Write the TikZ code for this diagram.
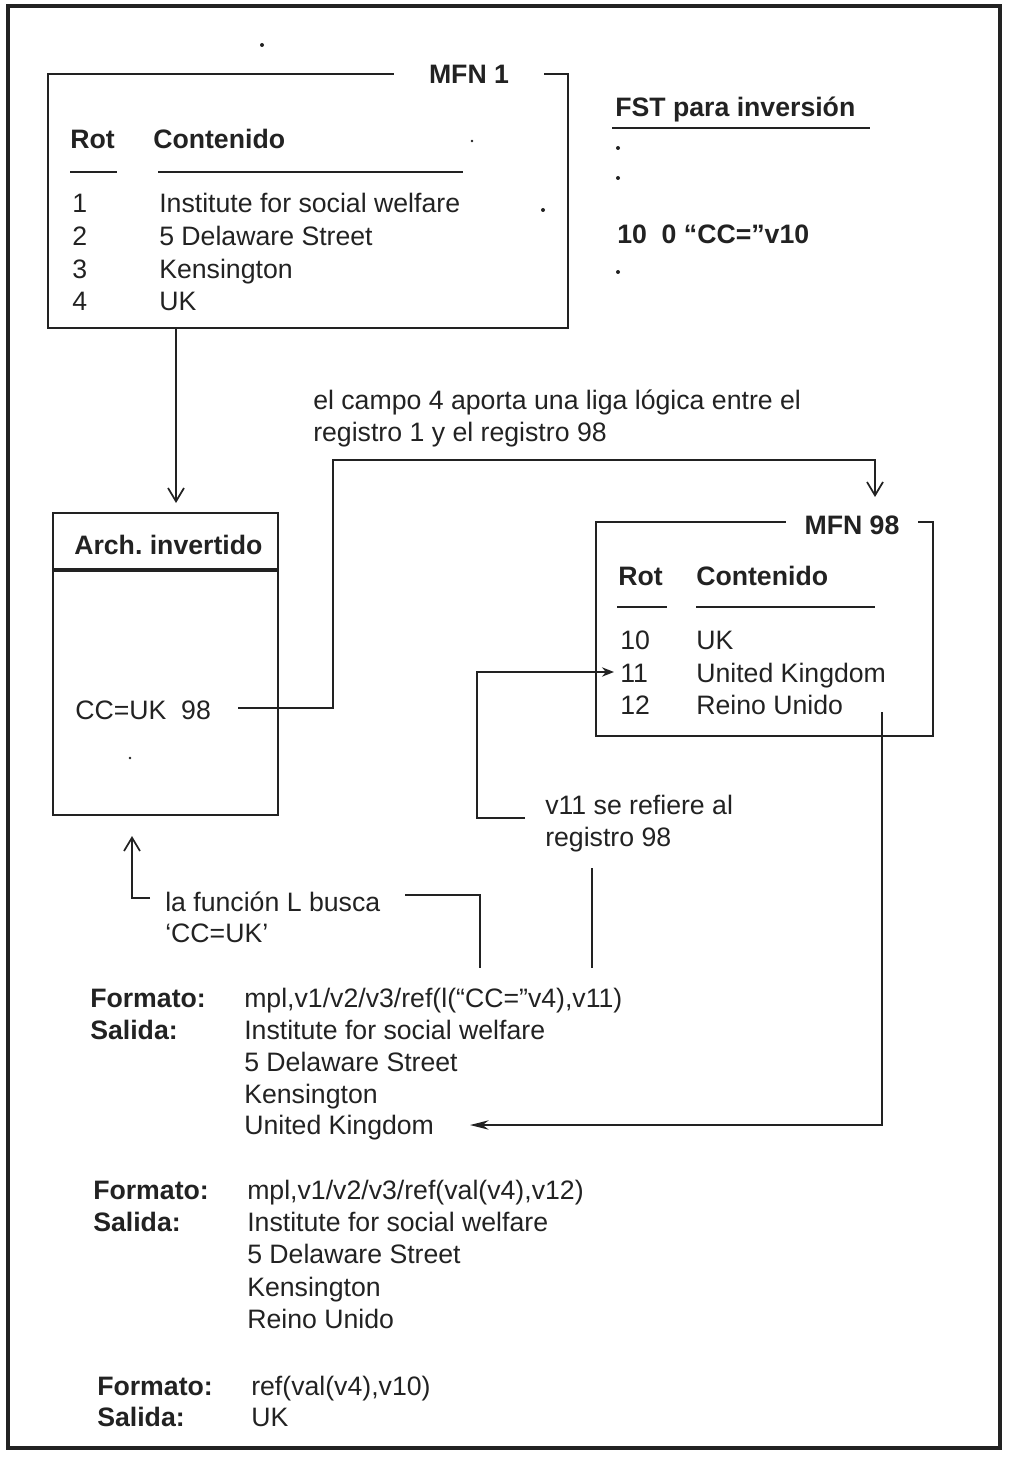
\documentclass[tikz,border=0pt]{standalone}
\usepackage{fontspec}
\setmainfont{Liberation Sans}
\usetikzlibrary{arrows.meta}
\definecolor{ink}{HTML}{222222}
\frenchspacing
\tikzset{
  txt/.style={anchor=base west, inner sep=0pt, text=ink, font=\fontsize{20}{24}\selectfont},
  btxt/.style={txt, font=\fontsize{20}{24}\selectfont\bfseries},
  boxline/.style={draw=ink, line width=2pt},
  conn/.style={draw=ink, line width=1.3pt},
  barb/.style={-{Straight Barb[length=10pt,width=12pt,line width=1.3pt]}},
  tri/.style={-{Stealth[length=9pt,width=7pt]}},
  ttl/.style={fill=white, inner xsep=20pt, inner ysep=2pt, text=ink, font=\fontsize{20}{24}\selectfont\bfseries},
  dotm/.style={circle, fill=ink, inner sep=0pt, minimum size=3pt}
}
\begin{document}
\begin{tikzpicture}[x=0.75pt,y=-0.75pt]
\useasboundingbox (0,0) rectangle (1021,1458);
% outer frame
\draw[draw=ink, line width=2.5pt] (8,6) rectangle (1000,1448);

% stray dots
\node[dotm] (d0) at (262,45) {};

% ---------- MFN 1 ----------
\draw[boxline] (48,74) rectangle (568,328);
\node[ttl, inner xsep=26pt] (mfn1) at (469,74) {MFN 1};
\node[btxt] (rot1) at (70,149) {Rot};
\node[btxt] (con1) at (153,149) {Contenido};
\draw[conn] (70,172) -- (117,172);
\draw[conn] (158,172) -- (463,172);
\node[dotm, minimum size=2pt] (d1) at (472,141) {};
\node[dotm] (d2) at (543,210) {};
\node[txt] (n1) at (72,213) {1};
\node[txt] (t1) at (159,213) {Institute for social welfare};
\node[txt] (n2) at (72,246) {2};
\node[txt] (t2) at (159,246) {5 Delaware Street};
\node[txt] (n3) at (72,279) {3};
\node[txt] (t3) at (159,279) {Kensington};
\node[txt] (n4) at (72,311) {4};
\node[txt] (t4) at (159,311) {UK};
\coordinate (m1b) at (176,328);

% ---------- FST ----------
\node[btxt] (fst) at (615,117) {FST para inversión};
\draw[draw=ink, line width=2pt] (612,128) -- (870,128);
\node[dotm] (f1) at (618,148) {};
\node[dotm] (f2) at (618,178) {};
\node[btxt] (fstl) at (617,244) {10~~0 “CC=”v10};
\node[dotm] (f3) at (618,272) {};

% ---------- Arch. invertido ----------
\draw[boxline] (53,513) rectangle (278,815);
\node[btxt] (arch) at (74,554) {Arch. invertido};
\draw[draw=ink, line width=3pt] (53,570) -- (278,570);
\node[txt] (ccuk) at (75,719) {CC=UK~~98};
\node[dotm, minimum size=2pt] (d3) at (130,758) {};
\coordinate (archtop) at (176,503);

\draw[conn, barb] (m1b) -- (archtop);

% ---------- label campo 4 ----------
\node[txt] (l4a) at (313,409) {el campo 4 aporta una liga lógica entre el};
\node[txt] (l4b) at (313,441) {registro 1 y el registro 98};

% ---------- MFN 98 ----------
\draw[boxline] (596,522) rectangle (933,736);
\node[ttl, inner xsep=14pt] (mfn98) at (852,525) {MFN 98};
\node[btxt] (rot2) at (618,585) {Rot};
\node[btxt] (con2) at (696,585) {Contenido};
\draw[conn] (617,607) -- (667,607);
\draw[conn] (696,607) -- (875,607);
\node[txt] (n10) at (620,649) {10};
\node[txt] (t10) at (696,649) {UK};
\node[txt] (n11) at (620,682) {11};
\node[txt] (t11) at (696,682) {United Kingdom};
\node[txt] (n12) at (620,714) {12};
\node[txt] (t12) at (696,714) {Reino Unido};

% connector CC=UK 98 -> MFN 98
\coordinate (c1s) at (238,708);
\coordinate (c1a) at (333,708);
\coordinate (c1b) at (333,460);
\coordinate (c1c) at (875,460);
\coordinate (c1e) at (875,497);
\draw[conn, barb] (c1s) -- (c1a) -- (c1b) -- (c1c) -- (c1e);

% ---------- v11 label ----------
\node[txt] (v11a) at (545,814) {v11 se refiere al};
\node[txt] (v11b) at (545,846) {registro 98};
\coordinate (v1s) at (525,818);
\coordinate (v1a) at (477,818);
\coordinate (v1b) at (477,672);
\coordinate (v1e) at (614,672);
\draw[conn, tri] (v1s) -- (v1a) -- (v1b) -- (v1e);
\coordinate (v2s) at (592,868);
\coordinate (v2e) at (592,968);
\draw[conn] (v2s) -- (v2e);

% ---------- función L ----------
\node[txt] (fl1) at (165,911) {la función L busca};
\node[txt] (fl2) at (165,942) {‘CC=UK’};
\coordinate (u1s) at (150,898);
\coordinate (u1a) at (132,898);
\coordinate (u1e) at (132,836);
\draw[conn, barb] (u1s) -- (u1a) -- (u1e);
\coordinate (u2s) at (405,895);
\coordinate (u2a) at (480,895);
\coordinate (u2e) at (480,968);
\draw[conn] (u2s) -- (u2a) -- (u2e);

% ---------- Reino Unido -> United Kingdom ----------
\coordinate (r1s) at (882,712);
\coordinate (r1a) at (882,1125);
\coordinate (r1e) at (470,1125);
\draw[conn, -{Stealth[length=14pt,width=7pt]}] (r1s) -- (r1a) -- (r1e);

% ---------- Block 1 ----------
\node[btxt] (fa) at (90,1007) {Formato:};
\node[txt] (fat) at (244,1007) {mpl,v1/v2/v3/ref(l(“CC=”v4),v11)};
\node[btxt] (sa) at (90,1039) {Salida:};
\node[txt] (sa1) at (244,1039) {Institute for social welfare};
\node[txt] (sa2) at (244,1071) {5 Delaware Street};
\node[txt] (sa3) at (244,1103) {Kensington};
\node[txt] (sa4) at (244,1134) {United Kingdom};

% ---------- Block 2 ----------
\node[btxt] (fb) at (93,1199) {Formato:};
\node[txt] (fbt) at (247,1199) {mpl,v1/v2/v3/ref(val(v4),v12)};
\node[btxt] (sb) at (93,1231) {Salida:};
\node[txt] (sb1) at (247,1231) {Institute for social welfare};
\node[txt] (sb2) at (247,1263) {5 Delaware Street};
\node[txt] (sb3) at (247,1296) {Kensington};
\node[txt] (sb4) at (247,1328) {Reino Unido};

% ---------- Block 3 ----------
\node[btxt] (fc) at (97,1395) {Formato:};
\node[txt] (fct) at (251,1395) {ref(val(v4),v10)};
\node[btxt] (sc) at (97,1426) {Salida:};
\node[txt] (sc1) at (251,1426) {UK};
\end{tikzpicture}
\end{document}
